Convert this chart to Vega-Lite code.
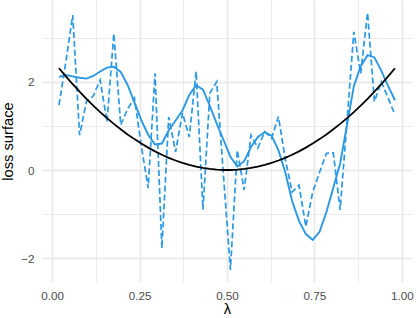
{
  "$schema": "https://vega.github.io/schema/vega-lite/v6.json",
  "width": 370,
  "height": 282,
  "autosize": {"type": "none"},
  "padding": {"left": 42, "top": 0, "right": 4, "bottom": 36},
  "background": "white",
  "config": {"view": {"stroke": null}},
  "data": {"values": [
    {"x": 0.02, "smooth": 2.11, "noisy": 1.47, "curve": 2.304},
    {"x": 0.0396, "smooth": 2.15, "noisy": 2.45, "curve": 2.12},
    {"x": 0.0592, "smooth": 2.12, "noisy": 3.51, "curve": 1.943},
    {"x": 0.0788, "smooth": 2.09, "noisy": 0.79, "curve": 1.774},
    {"x": 0.0984, "smooth": 2.07, "noisy": 1.55, "curve": 1.613},
    {"x": 0.118, "smooth": 2.13, "noisy": 1.68, "curve": 1.459},
    {"x": 0.1376, "smooth": 2.23, "noisy": 2.04, "curve": 1.313},
    {"x": 0.1571, "smooth": 2.32, "noisy": 1.09, "curve": 1.176},
    {"x": 0.1767, "smooth": 2.34, "noisy": 3.09, "curve": 1.045},
    {"x": 0.1963, "smooth": 2.22, "noisy": 1.02, "curve": 0.922},
    {"x": 0.2159, "smooth": 1.93, "noisy": 1.38, "curve": 0.807},
    {"x": 0.2355, "smooth": 1.53, "noisy": 1.63, "curve": 0.7},
    {"x": 0.2551, "smooth": 1.13, "noisy": 0.55, "curve": 0.6},
    {"x": 0.2747, "smooth": 0.8, "noisy": -0.41, "curve": 0.508},
    {"x": 0.2943, "smooth": 0.58, "noisy": 2.19, "curve": 0.423},
    {"x": 0.3139, "smooth": 0.6, "noisy": -1.77, "curve": 0.346},
    {"x": 0.3335, "smooth": 0.9, "noisy": 1.2, "curve": 0.277},
    {"x": 0.3531, "smooth": 1.12, "noisy": 0.41, "curve": 0.216},
    {"x": 0.3727, "smooth": 1.35, "noisy": 1.29, "curve": 0.162},
    {"x": 0.3922, "smooth": 1.7, "noisy": 0.75, "curve": 0.116},
    {"x": 0.4118, "smooth": 1.92, "noisy": 2.23, "curve": 0.078},
    {"x": 0.4314, "smooth": 1.82, "noisy": -0.9, "curve": 0.047},
    {"x": 0.451, "smooth": 1.45, "noisy": 1.74, "curve": 0.024},
    {"x": 0.4706, "smooth": 1.05, "noisy": 2.0, "curve": 0.009},
    {"x": 0.4902, "smooth": 0.68, "noisy": -0.15, "curve": 0.001},
    {"x": 0.5098, "smooth": 0.3, "noisy": -2.26, "curve": 0.001},
    {"x": 0.5294, "smooth": 0.08, "noisy": 0.45, "curve": 0.009},
    {"x": 0.549, "smooth": 0.2, "noisy": -0.45, "curve": 0.024},
    {"x": 0.5686, "smooth": 0.52, "noisy": 0.79, "curve": 0.047},
    {"x": 0.5882, "smooth": 0.75, "noisy": 0.5, "curve": 0.078},
    {"x": 0.6078, "smooth": 0.86, "noisy": 0.87, "curve": 0.116},
    {"x": 0.6273, "smooth": 0.78, "noisy": 0.72, "curve": 0.162},
    {"x": 0.6469, "smooth": 0.45, "noisy": 1.21, "curve": 0.216},
    {"x": 0.6665, "smooth": -0.05, "noisy": 0.25, "curve": 0.277},
    {"x": 0.6861, "smooth": -0.7, "noisy": -0.5, "curve": 0.346},
    {"x": 0.7057, "smooth": -1.15, "noisy": -0.34, "curve": 0.423},
    {"x": 0.7253, "smooth": -1.45, "noisy": -1.28, "curve": 0.508},
    {"x": 0.7449, "smooth": -1.58, "noisy": -0.5, "curve": 0.6},
    {"x": 0.7645, "smooth": -1.4, "noisy": -0.05, "curve": 0.7},
    {"x": 0.7841, "smooth": -0.95, "noisy": 0.38, "curve": 0.807},
    {"x": 0.8037, "smooth": -0.4, "noisy": 0.39, "curve": 0.922},
    {"x": 0.8233, "smooth": 0.15, "noisy": -0.9, "curve": 1.045},
    {"x": 0.8429, "smooth": 1.02, "noisy": 1.1, "curve": 1.176},
    {"x": 0.8624, "smooth": 1.9, "noisy": 3.13, "curve": 1.313},
    {"x": 0.882, "smooth": 2.35, "noisy": 2.19, "curve": 1.459},
    {"x": 0.9016, "smooth": 2.6, "noisy": 3.56, "curve": 1.613},
    {"x": 0.9212, "smooth": 2.55, "noisy": 1.55, "curve": 1.774},
    {"x": 0.9408, "smooth": 2.25, "noisy": 2.0, "curve": 1.943},
    {"x": 0.9604, "smooth": 1.9, "noisy": 1.63, "curve": 2.12},
    {"x": 0.98, "smooth": 1.58, "noisy": 1.25, "curve": 2.304}
  ]},
  "transform": [{"fold": ["noisy", "smooth", "curve"], "as": ["series", "value"]}],
  "encoding": {
    "x": {
      "field": "x", "type": "quantitative",
      "scale": {"domain": [-0.0286, 1.0286], "nice": false, "zero": false},
      "axis": {
        "title": "λ",
        "values": [0, 0.125, 0.25, 0.375, 0.5, 0.625, 0.75, 0.875, 1],
        "labelExpr": "(datum.value * 4) % 1 == 0 ? format(datum.value, '.2f') : ''",
        "grid": true,
        "gridColor": "#ebebeb",
        "gridWidth": {"condition": {"test": "(datum.value * 4) % 1 != 0", "value": 1}, "value": 2},
        "domain": false,
        "ticks": false,
        "tickSize": 0,
        "labelPadding": 8,
        "labelFont": "Liberation Sans",
        "labelFontSize": 11.7,
        "labelColor": "#4d4d4d",
        "labelFlush": false,
        "titleFont": "Liberation Sans",
        "titleFontSize": 14.7,
        "titleFontWeight": "normal",
        "titleColor": "black",
        "titlePadding": 0
      }
    },
    "y": {
      "field": "value", "type": "quantitative",
      "scale": {"domain": [-2.535, 3.85], "nice": false, "zero": false},
      "axis": {
        "title": "loss surface",
        "values": [-2, -1, 0, 1, 2, 3],
        "labelExpr": "datum.value % 2 == 0 ? (datum.value < 0 ? '−' + abs(datum.value) : '' + datum.value) : ''",
        "grid": true,
        "gridColor": "#ebebeb",
        "gridWidth": {"condition": {"test": "datum.value % 2 != 0", "value": 1}, "value": 2},
        "domain": false,
        "ticks": false,
        "tickSize": 0,
        "labelPadding": 8,
        "labelFont": "Liberation Sans",
        "labelFontSize": 11.7,
        "labelColor": "#4d4d4d",
        "labelFlush": false,
        "titleFont": "Liberation Sans",
        "titleFontSize": 14.7,
        "titleFontWeight": "normal",
        "titleColor": "black",
        "titlePadding": 5
      }
    }
  },
  "layer": [
    {
      "transform": [{"filter": "datum.series == 'noisy'"}],
      "mark": {"type": "line", "color": "#2a98e4", "strokeWidth": 1.7, "strokeDash": [6, 3]}
    },
    {
      "transform": [{"filter": "datum.series == 'smooth'"}],
      "mark": {"type": "line", "color": "#2a98e4", "strokeWidth": 1.9}
    },
    {
      "transform": [{"filter": "datum.series == 'curve'"}],
      "mark": {"type": "line", "color": "black", "strokeWidth": 1.8}
    }
  ]
}
